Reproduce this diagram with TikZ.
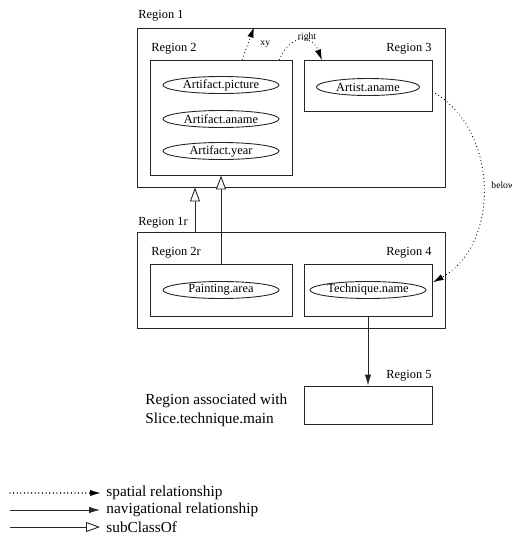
\documentclass[tikz,border=0pt]{standalone}
\usepackage{fontspec}
\setmainfont{Liberation Serif}
\usetikzlibrary{arrows.meta,calc,shapes.geometric}
\begin{document}
\begin{tikzpicture}[x=1pt,y=-1pt,
  line width=0.9pt,
  region/.style={draw=black!85,rectangle,inner sep=0pt,minimum width=#1},
  attr/.style={draw=black!85,ellipse,inner sep=0pt,minimum height=17pt,minimum width=#1,
    font=\fontsize{12.4}{14}\selectfont},
  rlabel/.style={inner sep=0pt,font=\fontsize{12.4}{14}\selectfont},
  slabel/.style={inner sep=0pt,font=\fontsize{9.6}{11}\selectfont},
  biglabel/.style={inner sep=0pt,font=\fontsize{15.3}{19}\selectfont},
  spatial/.style={draw=black,line width=1.2pt,line cap=round,dash pattern=on 0.01pt off 3.6pt,
    -{Latex[length=10pt,width=6pt,line width=0.01pt]}},
  navig/.style={draw=black!85,-{Latex[length=11pt,width=6.5pt]}},
  subcls/.style={draw=black!85,-{Triangle[open,length=14pt,width=10pt,fill=white]}}]
\useasboundingbox (0,0) rectangle (512,542);

% outer regions
\node[region=308pt,minimum height=159pt] (R1) at (291,107.5) {};
\node[region=308pt,minimum height=96pt] (R1r) at (291,280) {};
% inner regions
\node[region=142pt,minimum height=115pt] (R2) at (221,117.5) {};
\node[region=128pt,minimum height=51pt] (R3) at (368,85.5) {};
\node[region=142pt,minimum height=52pt] (R2r) at (221,290) {};
\node[region=128pt,minimum height=52pt] (R4) at (368,290) {};
\node[region=128pt,minimum height=38pt] (R5) at (368,405) {};

% region labels
\node[rlabel,anchor=west] (L1) at (138,16) {Region 1};
\node[rlabel,anchor=west] (L2) at (151,49) {Region 2};
\node[rlabel,anchor=east] (L3) at (432,49) {Region 3};
\node[rlabel,anchor=west] (L1r) at (138,223) {Region 1r};
\node[rlabel,anchor=west] (L2r) at (151,253) {Region 2r};
\node[rlabel,anchor=east] (L4) at (432,253) {Region 4};
\node[rlabel,anchor=east] (L5) at (432,376) {Region 5};
\node[biglabel,anchor=west,align=left] (assoc) at (145,410.5)
  {Region associated with\\Slice.technique.main};

% attributes
\node[attr=116pt] (apic) at (221,85) {Artifact.picture};
\node[attr=116pt] (aname) at (221,119) {Artifact.aname};
\node[attr=116pt] (ayear) at (221,151) {Artifact.year};
\node[attr=103pt] (artist) at (368,87) {Artist.aname};
\node[attr=116pt] (parea) at (221,290) {Painting.area};
\node[attr=116pt] (tname) at (368,290) {Technique.name};

% spatial relationships
\coordinate (xyS) at ($(R2.north west)!0.648!(R2.north east)$);
\coordinate (xyT) at ($(R1.north west)!0.38!(R1.north east)$);
\draw[spatial] (xyS) -- (xyT);
\node[slabel,anchor=west] (xy) at (260,44) {xy};

\coordinate (rtS) at ($(R2.north west)!0.908!(R2.north east)$);
\coordinate (rtT) at ($(R3.north west)!0.14!(R3.north east)$);
\draw[spatial] (rtS) .. controls (290,34) and (312,34) .. (rtT);
\node[slabel] (right) at (307,37) {right};

\coordinate (blS) at ($(R3.east)+(0,6)$);
\coordinate (blT) at ($(R4.east)+(1,-8)$);
\draw[spatial] (blS) .. controls (500,130) and (500,245) .. (blT);
\node[slabel,anchor=west] (below) at (491,185) {below};

% subclass relationships
\draw[subcls] (R1r.north -| 195,0) -- (R1.south -| 195,0);
\draw[subcls] (R2r.north) -- (R2.south);

% navigational relationship
\draw[navig] (R4.south) -- (R5.north);

% legend
\coordinate (k1a) at (10,493); \coordinate (k1b) at (100,493);
\coordinate (k2a) at (10,510); \coordinate (k2b) at (100,510);
\coordinate (k3a) at (10,527); \coordinate (k3b) at (100,527);
\draw[spatial] (k1a) -- (k1b);
\draw[navig] (k2a) -- (k2b);
\draw[subcls] (k3a) -- (k3b);
\node[biglabel,anchor=west] (k1) at (106,493) {spatial relationship};
\node[biglabel,anchor=west] (k2) at (106,510) {navigational relationship};
\node[biglabel,anchor=west] (k3) at (106,527) {subClassOf};
\end{tikzpicture}
\end{document}
